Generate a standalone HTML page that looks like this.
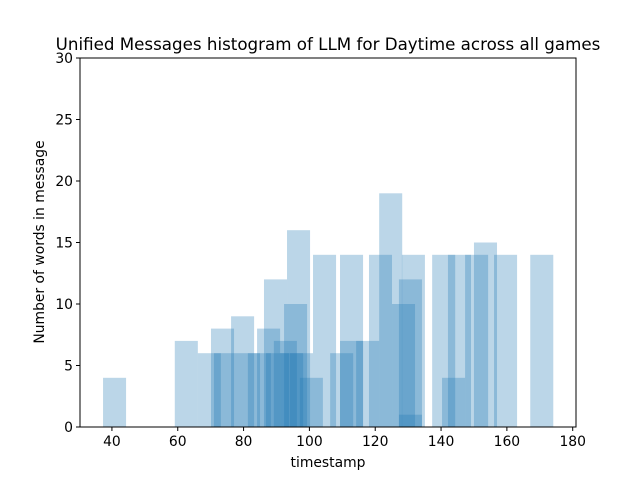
<!DOCTYPE html>
<html><head><meta charset="utf-8"><style>
body{margin:0;background:#fff;}
svg{display:block;font-family:"DejaVu Sans","Liberation Sans",sans-serif;}
</style></head><body>
<svg id="chart" width="640" height="480" viewBox="0 0 640 480" xmlns="http://www.w3.org/2000/svg">
<rect width="640" height="480" fill="#fff"/>
<text x="328" y="50" font-size="16.7" text-anchor="middle" fill="#000">Unified Messages histogram of LLM for Daytime across all games</text>
<g id="bars"></g>
<g id="axes"></g>
<text x="328" y="467" font-size="13.9" text-anchor="middle">timestamp</text>
<text transform="translate(44,242) rotate(-90)" font-size="13.9" text-anchor="middle">Number of words in message</text>
</svg>
<script>
const binStarts=[37.3,59.1,66.1,70.1,71.0,76.2,78.0,81.3,84.1,86.2,86.8,89.2,91.1,92.3,93.2,94.1,97.1,101.1,106.3,109.3,109.3,114.2,118.1,121.2,125.1,127.2,127.2,128.1,137.3,140.3,142.1,147.3,150.0,156.1,167.1];
const binCounts=[4,7,6,8,6,9,6,6,8,12,6,7,6,10,16,6,4,14,6,14,7,7,14,19,10,12,1,14,14,4,14,14,15,14,14];
const binWidth=7;
const xTicks=[40,60,80,100,120,140,160,180];
const yTicks=[0,5,10,15,20,25,30];
const L=80,R=576,T=58,B=427,xmin=30.3,xmax=181.0,ymin=0,ymax=30;
const sx=v=>L+(v-xmin)/(xmax-xmin)*(R-L);
const sy=v=>B-(v-ymin)/(ymax-ymin)*(B-T);
const NS="http://www.w3.org/2000/svg";
const bars=document.getElementById('bars');
binStarts.forEach((s,i)=>{
  const r=document.createElementNS(NS,'rect');
  r.setAttribute('x',sx(s));r.setAttribute('width',sx(s+binWidth)-sx(s));
  r.setAttribute('y',sy(binCounts[i]));r.setAttribute('height',sy(0)-sy(binCounts[i]));
  r.setAttribute('fill','#1f77b4');r.setAttribute('fill-opacity','0.3');
  
  
  bars.appendChild(r);
});
const ax=document.getElementById('axes');
const fr=document.createElementNS(NS,'rect');
fr.setAttribute('x',L);fr.setAttribute('y',T);fr.setAttribute('width',R-L);fr.setAttribute('height',B-T);
fr.setAttribute('fill','none');fr.setAttribute('stroke','#000');fr.setAttribute('stroke-width','1');


ax.appendChild(fr);
xTicks.forEach(t=>{
  const x=sx(t);
  const l=document.createElementNS(NS,'line');
  l.setAttribute('x1',x);l.setAttribute('x2',x);l.setAttribute('y1',B);l.setAttribute('y2',B+4);l.setAttribute('stroke','#000');
  
  
  ax.appendChild(l);
  const tx=document.createElementNS(NS,'text');
  tx.setAttribute('x',x);tx.setAttribute('y',B+19);tx.setAttribute('font-size','13.9');tx.setAttribute('text-anchor','middle');
  tx.textContent=t;
  
  
  ax.appendChild(tx);
});
yTicks.forEach(t=>{
  const y=sy(t);
  const l=document.createElementNS(NS,'line');
  l.setAttribute('x1',L-4);l.setAttribute('x2',L);l.setAttribute('y1',y);l.setAttribute('y2',y);l.setAttribute('stroke','#000');
  
  
  ax.appendChild(l);
  const tx=document.createElementNS(NS,'text');
  tx.setAttribute('x',L-7);tx.setAttribute('y',y+5);tx.setAttribute('font-size','13.9');tx.setAttribute('text-anchor','end');
  tx.textContent=t;
  
  
  ax.appendChild(tx);
});
</script>
</body></html>
